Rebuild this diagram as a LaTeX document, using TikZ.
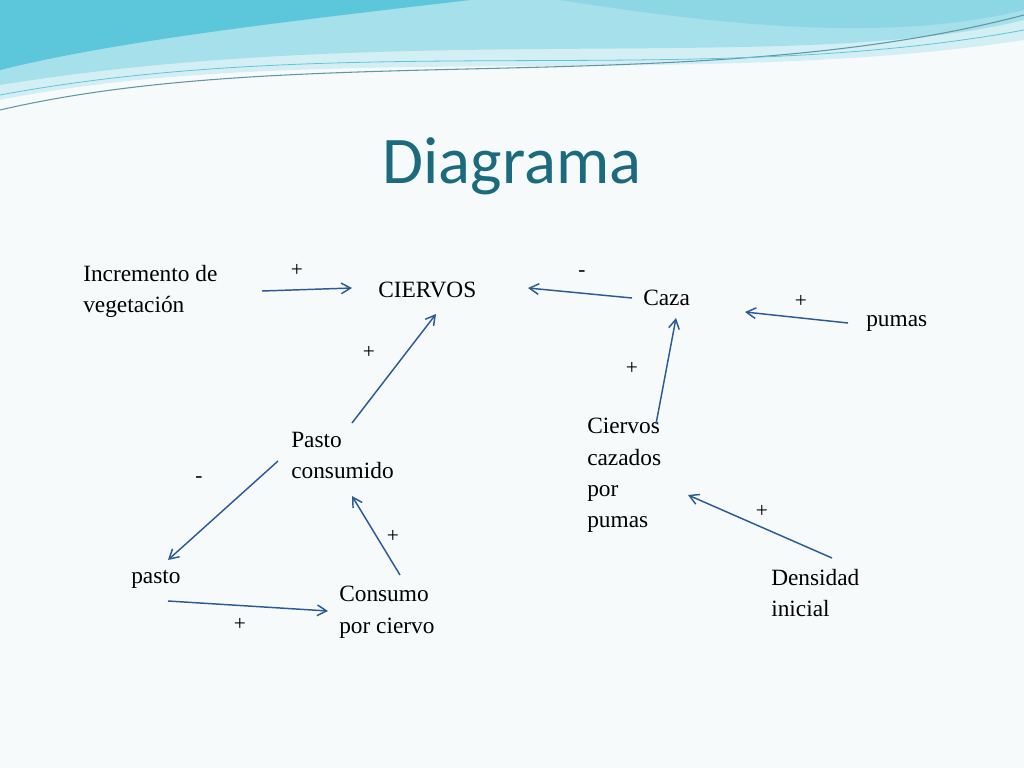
\documentclass[tikz,border=0pt]{standalone}
\usepackage{fontspec}
\setmainfont{Liberation Serif}
\newfontfamily\titlefont{Carlito}
\usetikzlibrary{arrows.meta}
\definecolor{bg}{HTML}{F7FAFB}
\definecolor{teal}{HTML}{1B6A7E}
\definecolor{arr}{HTML}{2A5B96}
\definecolor{sw1}{HTML}{5CC6DA}
\definecolor{sw2}{HTML}{A6E0EA}
\definecolor{sw3}{HTML}{D3EFF4}
\tikzset{
  lbl/.style={font=\fontsize{17.5}{23.5}\selectfont, align=left, anchor=north west, inner sep=0pt},
  sgn/.style={font=\fontsize{16}{18}\selectfont, inner sep=0pt},
  link/.style={draw=arr, line width=1.1pt, -{Straight Barb[length=7pt,width=8pt]}},
}
\begin{document}
\begin{tikzpicture}[x=0.75pt,y=-0.75pt]
\useasboundingbox (0,0) rectangle (1024,768);
\fill[bg] (0,0) rectangle (1024,768);
% header swoosh
\fill[sw3] (0,0) -- (1024,0) -- (1024,40) .. controls (700,90) and (300,40) .. (0,100) -- cycle;
\fill[sw2] (0,0) -- (1024,0) -- (1024,20) .. controls (800,75) and (400,20) .. (0,85) -- cycle;
\fill[sw1] (0,0) -- (470,0) .. controls (300,20) and (120,40) .. (0,70) -- cycle;
\fill[sw1!70] (560,0) -- (1024,0) -- (1024,10) .. controls (900,40) and (750,30) .. (560,0) -- cycle;
\draw[teal!70, line width=0.8pt] (0,110) .. controls (300,40) and (700,100) .. (1024,15);
\draw[sw1, line width=0.6pt] (0,95) .. controls (350,30) and (700,90) .. (1024,30);
% title
\node[font=\titlefont\fontsize{50}{54}\selectfont, text=teal] (title) at (512,166) {Diagrama};
% labels
\node[lbl] (inc) at (83,265) {Incremento de\\vegetación};
\node[lbl] (cier) at (378,282) {CIERVOS};
\node[lbl] (caza) at (643,290) {Caza};
\node[lbl] (pum) at (866,315) {pumas};
\node[lbl] (past) at (291,432) {Pasto\\consumido};
\node[lbl] (ccp) at (587,418) {Ciervos\\cazados\\por\\pumas};
\node[lbl] (pas) at (131,570) {pasto};
\node[lbl] (cons) at (339,586) {Consumo\\por ciervo};
\node[lbl] (dens) at (771,569) {Densidad\\inicial};
% endpoints
\coordinate (a1) at (262,291); \coordinate (b1) at (352,288);
\coordinate (a2) at (632,298); \coordinate (b2) at (528,288);
\coordinate (a3) at (848,323); \coordinate (b3) at (745,312);
\coordinate (a4) at (352,423); \coordinate (b4) at (436,314);
\coordinate (a5) at (278,461); \coordinate (b5) at (168,560);
\coordinate (a6) at (400,575); \coordinate (b6) at (352,496);
\coordinate (a7) at (168,601); \coordinate (b7) at (328,611);
\coordinate (a8) at (656,424); \coordinate (b8) at (676,318);
\coordinate (a9) at (832,558); \coordinate (b9) at (688,495);
\foreach \i in {1,...,9} {\draw[link] (a\i) -- (b\i);}
% signs
\node[sgn] (s1) at (297,270) {+};
\node[sgn] (s2) at (582,274) {-};
\node[sgn] (s3) at (801,301) {+};
\node[sgn] (s4) at (369,352) {+};
\node[sgn] (s5) at (632,368) {+};
\node[sgn] (s6) at (199,480) {-};
\node[sgn] (s7) at (393,536) {+};
\node[sgn] (s8) at (762,511) {+};
\node[sgn] (s9) at (240,624) {+};
\end{tikzpicture}
\end{document}
